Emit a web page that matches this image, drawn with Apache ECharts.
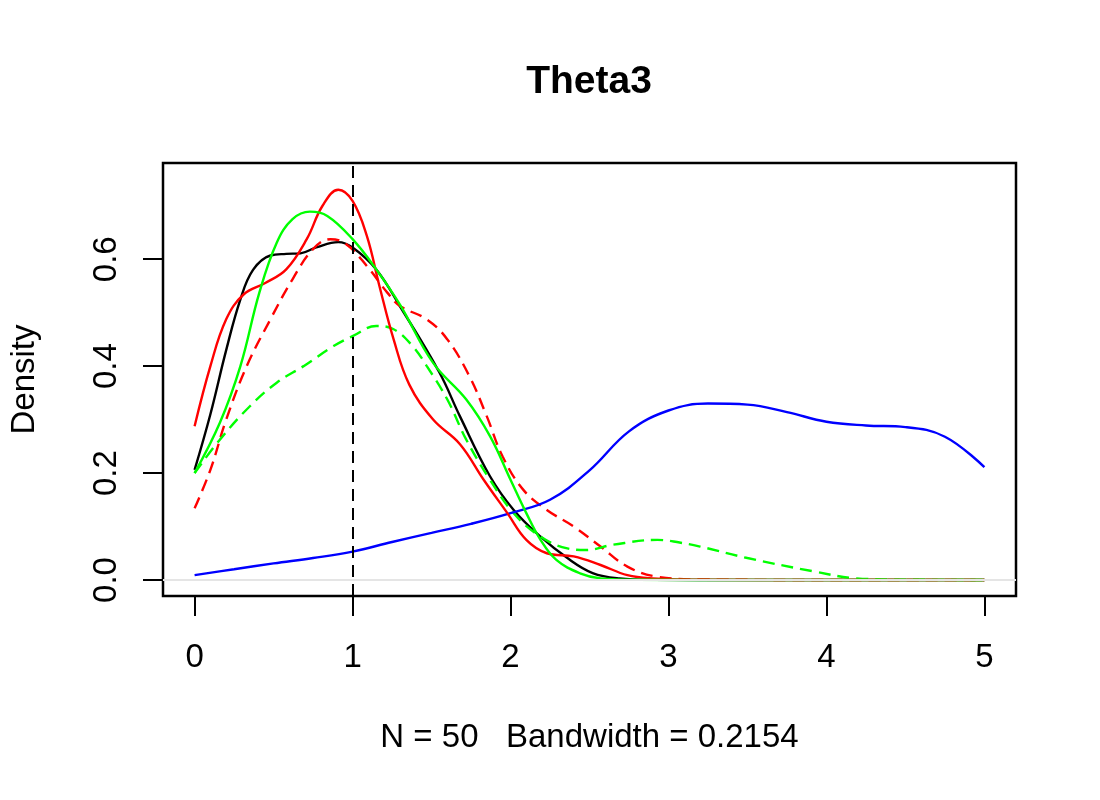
<!DOCTYPE html>
<html>
<head>
<meta charset="utf-8">
<title>Theta3</title>
<script src="https://cdn.jsdelivr.net/npm/echarts@6/dist/echarts.min.js"></script>
<style>
  html, body { margin: 0; padding: 0; background: #fff; }
  #chart { width: 1100px; height: 800px; }
</style>
</head>
<body>
<div id="chart"></div>
<script>
  // density estimates
  const blackX = [0, 0.1, 0.2, 0.29, 0.37, 0.48, 0.58, 0.67, 0.77, 0.91, 1.0, 1.15, 1.3, 1.55, 1.68, 1.87, 2.02, 2.19, 2.36, 2.52, 2.69, 2.9, 3.5, 4.0, 4.5, 5.0]
  const blackY = [0.206, 0.31, 0.43, 0.525, 0.58, 0.607, 0.61, 0.611, 0.622, 0.632, 0.622, 0.581, 0.512, 0.388, 0.306, 0.194, 0.131, 0.081, 0.041, 0.013, 0.003, 0.0005, 0, 0, 0, 0]

  const redX = [0, 0.1, 0.2, 0.31, 0.45, 0.58, 0.71, 0.81, 0.91, 1.0, 1.09, 1.17, 1.26, 1.36, 1.51, 1.68, 1.83, 1.98, 2.1, 2.23, 2.4, 2.57, 2.74, 2.9, 3.2, 4.0, 5.0]
  const redY = [0.2875, 0.40, 0.4875, 0.534, 0.556, 0.581, 0.6375, 0.70, 0.73, 0.709, 0.644, 0.55, 0.45, 0.365, 0.30, 0.254, 0.1875, 0.125, 0.075, 0.05, 0.044, 0.028, 0.009, 0.003, 0.0005, 0, 0]

  const greenX = [0, 0.16, 0.29, 0.41, 0.52, 0.62, 0.73, 0.84, 1.0, 1.15, 1.3, 1.51, 1.72, 1.87, 2.0, 2.1, 2.19, 2.29, 2.44, 2.57, 2.8, 3.5, 4.0, 5.0]
  const greenY = [0.20, 0.294, 0.40, 0.5375, 0.631, 0.675, 0.689, 0.681, 0.6375, 0.581, 0.515, 0.406, 0.3375, 0.269, 0.1875, 0.125, 0.075, 0.0375, 0.0125, 0.003, 0.0003, 0, 0, 0]

  const redDashX = [0, 0.1, 0.2, 0.33, 0.48, 0.62, 0.75, 0.86, 0.96, 1.09, 1.22, 1.3, 1.47, 1.6, 1.74, 1.85, 1.95, 2.08, 2.23, 2.4, 2.57, 2.74, 2.93, 3.2, 4.0, 5.0]
  const redDashY = [0.134, 0.206, 0.30, 0.40, 0.4875, 0.5625, 0.619, 0.6375, 0.628, 0.5875, 0.5375, 0.5125, 0.4875, 0.45, 0.381, 0.306, 0.231, 0.169, 0.131, 0.10, 0.0625, 0.025, 0.006, 0.001, 0, 0]

  const greenDashX = [0, 0.16, 0.35, 0.52, 0.69, 0.88, 1.0, 1.15, 1.26, 1.38, 1.47, 1.6, 1.72, 1.87, 2.02, 2.19, 2.36, 2.48, 2.65, 2.93, 3.07, 3.2, 3.5, 3.92, 4.19, 4.5, 5.0]
  const greenDashY = [0.20, 0.2625, 0.325, 0.369, 0.40, 0.4375, 0.456, 0.475, 0.469, 0.4375, 0.40, 0.3375, 0.2625, 0.1875, 0.125, 0.081, 0.059, 0.056, 0.066, 0.075, 0.07, 0.0625, 0.041, 0.016, 0.003, 0.0005, 0]

  const blueX = [0, 0.25, 0.5, 0.75, 1.0, 1.25, 1.5, 1.75, 2.0, 2.25, 2.5, 2.75, 3.0, 3.25, 3.5, 3.75, 4.0, 4.25, 4.5, 4.75, 5.0]
  const blueY = [0.009, 0.02, 0.031, 0.041, 0.053, 0.071, 0.088, 0.105, 0.125, 0.15, 0.205, 0.278, 0.317, 0.33, 0.328, 0.314, 0.296, 0.289, 0.286, 0.268, 0.211]

  const xTicks = [0, 1, 2, 3, 4, 5]
  const yTicks = [0, 0.2, 0.4, 0.6]
  const trueValue = 1

  const font = 'Liberation Sans, Arial, Helvetica, sans-serif'

  function zip(xs, ys) {
    return xs.map((x, i) => [x, ys[i]])
  }

  function curve(name, xs, ys, color, dashed) {
    return {
      name: name,
      type: 'line',
      data: zip(xs, ys),
      smooth: 0.4,
      symbol: 'none',
      lineStyle: {
        color: color,
        width: 2.4,
        type: dashed ? [12, 7] : 'solid'
      },
      z: 3
    }
  }

  const chart = echarts.init(document.getElementById('chart'), null, { renderer: 'canvas' })

  chart.setOption({
    animation: false,
    backgroundColor: '#fff',
    textStyle: { fontFamily: font },
    title: {
      text: 'Theta3',
      left: 584,
      top: 58,
      textAlign: 'center',
      textStyle: { fontFamily: font, fontSize: 39, fontWeight: 'bold', color: '#000' }
    },
    grid: {
      left: 163,
      right: 84,
      top: 163,
      bottom: 204,
      show: true,
      borderColor: '#000',
      borderWidth: 2.5,
      containLabel: false,
      outerBoundsMode: 'none'
    },
    xAxis: {
      type: 'value',
      min: -0.2,
      max: 5.2,
      name: 'N = 50   Bandwidth = 0.2154',
      nameLocation: 'middle',
      nameGap: 125,
      nameTextStyle: { fontFamily: font, fontSize: 33, color: '#000' },
      axisLine: { show: false, onZero: false },
      axisTick: {
        show: true,
        length: 20,
        customValues: xTicks,
        lineStyle: { color: '#000', width: 2 }
      },
      axisLabel: {
        customValues: xTicks,
        margin: 45,
        fontFamily: font,
        fontSize: 33,
        color: '#000'
      },
      splitLine: { show: false }
    },
    yAxis: {
      type: 'value',
      min: -0.03,
      max: 0.78,
      name: 'Density',
      nameLocation: 'middle',
      nameRotate: 90,
      nameGap: 122,
      nameTextStyle: { fontFamily: font, fontSize: 33, color: '#000' },
      axisLine: { show: false, onZero: false },
      axisTick: {
        show: true,
        length: 20,
        customValues: yTicks,
        lineStyle: { color: '#000', width: 2 }
      },
      axisLabel: {
        customValues: yTicks,
        rotate: 90,
        margin: 40,
        fontFamily: font,
        fontSize: 33,
        color: '#000',
        formatter: v => v.toFixed(1)
      },
      splitLine: { show: false }
    },
    series: [
      {
        name: 'ref',
        type: 'line',
        data: [],
        z: 1,
        markLine: {
          silent: true,
          symbol: 'none',
          label: { show: false },
          data: [
            { yAxis: 0, lineStyle: { color: '#e5e5e5', width: 2, type: 'solid' } },
            { xAxis: trueValue, lineStyle: { color: '#000', width: 2, type: [12, 7] } }
          ]
        }
      },
      curve('black', blackX, blackY, '#000000', false),
      curve('red dashed', redDashX, redDashY, '#ff0000', true),
      curve('green dashed', greenDashX, greenDashY, '#00ff00', true),
      curve('blue', blueX, blueY, '#0000ff', false),
      curve('red', redX, redY, '#ff0000', false),
      curve('green', greenX, greenY, '#00ff00', false)
    ]
  })
</script>
</body>
</html>
